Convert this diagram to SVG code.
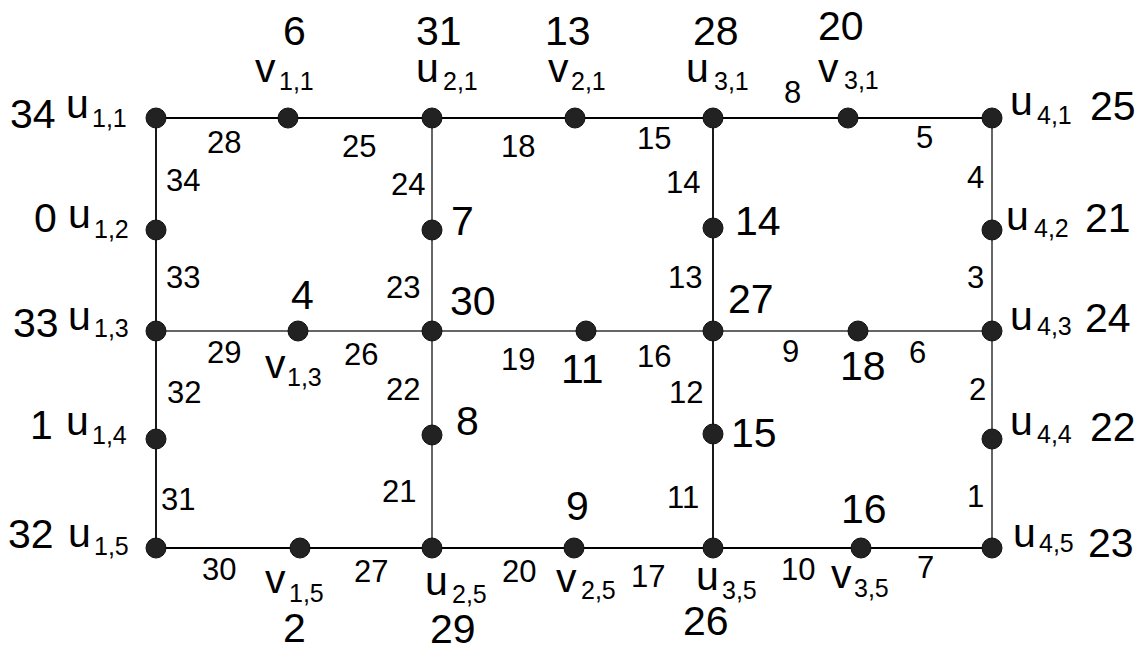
<svg xmlns="http://www.w3.org/2000/svg" width="1141" height="646" viewBox="0 0 1141 646">
<style>
text{font-family:"Liberation Sans",Arial,sans-serif;fill:#000}
.big{font-size:41px}
.nm{font-size:41px}
.sub{font-size:25px}
.el{font-size:31px}
.dot{fill:#222;stroke:#111;stroke-width:1}
.lk{stroke:#000;stroke-width:1.8;fill:none}
.lg{stroke:#666;stroke-width:2;fill:none}
</style>
<rect width="1141" height="646" fill="#fff"/>
<g id="connectors">
<line class="lk" x1="156" y1="118" x2="992" y2="118"/>
<line class="lg" x1="156" y1="331" x2="992" y2="331"/>
<line class="lk" x1="156" y1="548" x2="992" y2="548"/>
<line class="lk" x1="156" y1="118" x2="156" y2="548"/>
<line class="lg" x1="432" y1="118" x2="432" y2="548"/>
<line class="lk" x1="713" y1="118" x2="713" y2="548"/>
<line class="lg" x1="992" y1="118" x2="992" y2="548"/>
<g id="edge-labels" class="el">
<text x="207" y="153">28</text>
<text x="342" y="157">25</text>
<text x="166" y="191">34</text>
<text x="391" y="195">24</text>
<text x="501" y="157">18</text>
<text x="637" y="149">15</text>
<text x="666" y="193">14</text>
<text x="784" y="103">8</text>
<text x="916" y="148">5</text>
<text x="967" y="188">4</text>
<text x="166" y="288">33</text>
<text x="386" y="298">23</text>
<text x="668" y="288">13</text>
<text x="967" y="288">3</text>
<text x="207" y="363">29</text>
<text x="344" y="365">26</text>
<text x="501" y="370">19</text>
<text x="637" y="367">16</text>
<text x="782" y="362">9</text>
<text x="909" y="363">6</text>
<text x="167" y="403">32</text>
<text x="386" y="400">22</text>
<text x="669" y="403">12</text>
<text x="969" y="400">2</text>
<text x="161" y="510">31</text>
<text x="382" y="502">21</text>
<text x="667" y="508">11</text>
<text x="967" y="507">1</text>
<text x="202" y="580">30</text>
<text x="354" y="582">27</text>
<text x="502" y="582">20</text>
<text x="631" y="587">17</text>
<text x="781" y="580">10</text>
<text x="917" y="578">7</text>
</g>
</g>
<g id="u11"><circle class="dot" cx="156" cy="118" r="10"/><text class="big" x="10" y="128">34</text><text class="nm" x="66" y="118">u</text><text class="sub" x="92" y="127">1,1</text></g>
<g id="v11"><circle class="dot" cx="288" cy="118" r="10"/><text class="big" x="283" y="45">6</text><text class="nm" x="255" y="82">v</text><text class="sub" x="279" y="90">1,1</text></g>
<g id="u21"><circle class="dot" cx="432" cy="118" r="10"/><text class="big" x="416" y="45">31</text><text class="nm" x="416" y="82">u</text><text class="sub" x="443" y="90">2,1</text></g>
<g id="v21"><circle class="dot" cx="575" cy="118" r="10"/><text class="big" x="545" y="45">13</text><text class="nm" x="548" y="82">v</text><text class="sub" x="571" y="90">2,1</text></g>
<g id="u31"><circle class="dot" cx="713" cy="118" r="10"/><text class="big" x="693" y="45">28</text><text class="nm" x="686" y="82">u</text><text class="sub" x="714" y="90">3,1</text></g>
<g id="v31"><circle class="dot" cx="848" cy="118" r="10"/><text class="big" x="818" y="40">20</text><text class="nm" x="818" y="82">v</text><text class="sub" x="844" y="89">3,1</text></g>
<g id="u41"><circle class="dot" cx="992" cy="118" r="10"/><text class="nm" x="1010" y="115">u</text><text class="sub" x="1037" y="124">4,1</text><text class="big" x="1090" y="120">25</text></g>
<g id="u12"><circle class="dot" cx="156" cy="230" r="10"/><text class="big" x="34" y="232">0</text><text class="nm" x="68" y="228">u</text><text class="sub" x="94" y="238">1,2</text></g>
<g id="n7"><circle class="dot" cx="432" cy="230" r="10"/><text class="big" x="451" y="235">7</text></g>
<g id="n14"><circle class="dot" cx="713" cy="228" r="10"/><text class="big" x="735" y="235">14</text></g>
<g id="u42"><circle class="dot" cx="992" cy="230" r="10"/><text class="nm" x="1006" y="230">u</text><text class="sub" x="1034" y="237">4,2</text><text class="big" x="1085" y="232">21</text></g>
<g id="u13"><circle class="dot" cx="156" cy="331" r="10"/><text class="big" x="13" y="337">33</text><text class="nm" x="68" y="330">u</text><text class="sub" x="94" y="337">1,3</text></g>
<g id="v13"><circle class="dot" cx="298" cy="331" r="10"/><text class="big" x="291" y="309">4</text><text class="nm" x="265" y="378">v</text><text class="sub" x="287" y="386">1,3</text></g>
<g id="n30"><circle class="dot" cx="432" cy="331" r="10"/><text class="big" x="450" y="315">30</text></g>
<g id="n11"><circle class="dot" cx="586" cy="331" r="10"/><text class="big" x="561" y="383">11</text></g>
<g id="n27"><circle class="dot" cx="713" cy="331" r="10"/><text class="big" x="728" y="313">27</text></g>
<g id="n18"><circle class="dot" cx="858" cy="331" r="10"/><text class="big" x="840" y="380">18</text></g>
<g id="u43"><circle class="dot" cx="992" cy="331" r="10"/><text class="nm" x="1010" y="330">u</text><text class="sub" x="1037" y="335">4,3</text><text class="big" x="1085" y="332">24</text></g>
<g id="u14"><circle class="dot" cx="156" cy="439" r="10"/><text class="big" x="30" y="439">1</text><text class="nm" x="66" y="435">u</text><text class="sub" x="92" y="444">1,4</text></g>
<g id="n8"><circle class="dot" cx="432" cy="435" r="10"/><text class="big" x="456" y="435">8</text></g>
<g id="n15"><circle class="dot" cx="713" cy="434" r="10"/><text class="big" x="731" y="447">15</text></g>
<g id="u44"><circle class="dot" cx="992" cy="439" r="10"/><text class="nm" x="1010" y="435">u</text><text class="sub" x="1037" y="443">4,4</text><text class="big" x="1090" y="441">22</text></g>
<g id="u15"><circle class="dot" cx="156" cy="548" r="10"/><text class="big" x="8" y="548">32</text><text class="nm" x="68" y="547">u</text><text class="sub" x="94" y="555">1,5</text></g>
<g id="v15"><circle class="dot" cx="300" cy="548" r="10"/><text class="big" x="283" y="642">2</text><text class="nm" x="265" y="593">v</text><text class="sub" x="289" y="602">1,5</text></g>
<g id="u25"><circle class="dot" cx="432" cy="548" r="10"/><text class="big" x="430" y="643">29</text><text class="nm" x="425" y="595">u</text><text class="sub" x="452" y="603">2,5</text></g>
<g id="v25"><circle class="dot" cx="574" cy="548" r="10"/><text class="big" x="566" y="520">9</text><text class="nm" x="556" y="592">v</text><text class="sub" x="581" y="599">2,5</text></g>
<g id="u35"><circle class="dot" cx="713" cy="548" r="10"/><text class="big" x="683" y="635">26</text><text class="nm" x="696" y="590">u</text><text class="sub" x="722" y="599">3,5</text></g>
<g id="v35"><circle class="dot" cx="861" cy="548" r="10"/><text class="big" x="841" y="523">16</text><text class="nm" x="831" y="588">v</text><text class="sub" x="854" y="597">3,5</text></g>
<g id="u45"><circle class="dot" cx="992" cy="548" r="10"/><text class="nm" x="1013" y="547">u</text><text class="sub" x="1039" y="552">4,5</text><text class="big" x="1088" y="557">23</text></g>
</svg>
